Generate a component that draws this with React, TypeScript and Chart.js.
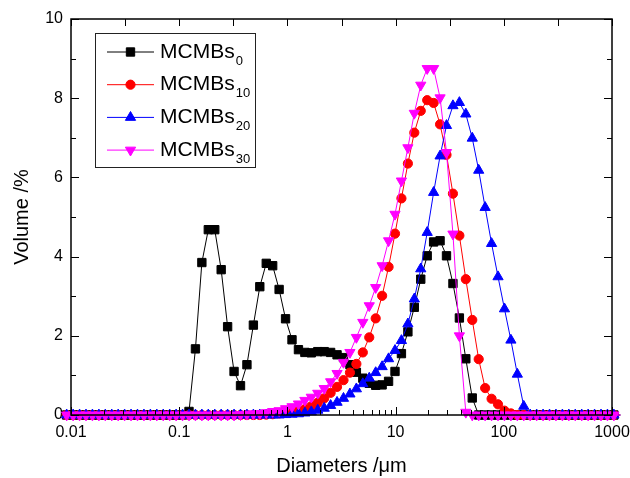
import React, { useEffect, useRef } from 'react';
import { Chart, registerables } from 'chart.js';

Chart.register(...registerables);
Chart.defaults.font.family = '"Liberation Sans", Arial, sans-serif';
Chart.defaults.color = '#000';

// Particle diameters (µm), log-spaced size classes
const diameters = [
  0.00912, 0.01046, 0.012, 0.01376, 0.01578, 0.0181, 0.02075, 0.0238, 0.02729, 0.0313,
  0.03589, 0.04117, 0.04721, 0.05415, 0.06209, 0.07121, 0.08166, 0.09365, 0.1074, 0.1232,
  0.1413, 0.162, 0.1858, 0.2131, 0.2443, 0.2802, 0.3214, 0.3686, 0.4227, 0.4848,
  0.5559, 0.6376, 0.7311, 0.8385, 0.9616, 1.103, 1.265, 1.45, 1.663, 1.908,
  2.188, 2.509, 2.877, 3.3, 3.784, 4.34, 4.977, 5.708, 6.546, 7.508,
  8.61, 9.874, 11.32, 12.99, 14.89, 17.08, 19.59, 22.46, 25.76, 29.54,
  33.88, 38.86, 44.57, 51.11, 58.61, 67.22, 77.09, 88.42, 101.4, 116.3,
  133.4, 152.9, 175.4, 201.2, 230.7, 264.6, 303.4, 348.0, 399.0, 457.7,
  524.8, 601.9, 690.2, 791.6, 907.8, 1041, 1194,
];

// Volume fraction (%) per size class
const mcmbs0 = [
  0, 0, 0, 0, 0, 0, 0, 0, 0, 0,
  0, 0, 0, 0, 0, 0, 0, 0, 0, 0.09,
  1.67, 3.85, 4.68, 4.68, 3.67, 2.23, 1.1, 0.74, 1.27, 2.27,
  3.24, 3.83, 3.77, 3.17, 2.43, 1.9, 1.65, 1.58, 1.57, 1.6,
  1.6, 1.58, 1.52, 1.45, 1.27, 1.08, 0.93, 0.8, 0.75, 0.76,
  0.85, 1.1, 1.55, 2.1, 2.72, 3.43, 4.02, 4.37, 4.4, 4.02,
  3.32, 2.45, 1.42, 0.43, 0, 0, 0, 0, 0, 0,
  0, 0, 0, 0, 0, 0, 0, 0, 0, 0,
  0, 0, 0, 0, 0, 0, 0,
];
const mcmbs10 = [
  0, 0, 0, 0, 0, 0, 0, 0, 0, 0,
  0, 0, 0, 0, 0, 0, 0, 0, 0, 0,
  0, 0, 0, 0, 0, 0, 0, 0, 0, 0,
  0, 0.01, 0.02, 0.04, 0.06, 0.08, 0.11, 0.15, 0.22, 0.31,
  0.42, 0.56, 0.71, 0.88, 1.07, 1.29, 1.58, 1.96, 2.44, 3.01,
  3.74, 4.58, 5.47, 6.35, 7.13, 7.68, 7.95, 7.88, 7.34, 6.57,
  5.59, 4.53, 3.43, 2.4, 1.41, 0.68, 0.41, 0.27, 0.11, 0.04,
  0, 0, 0, 0, 0, 0, 0, 0, 0, 0,
  0, 0, 0, 0, 0, 0, 0,
];
const mcmbs20 = [
  0, 0, 0, 0, 0, 0, 0, 0, 0, 0,
  0, 0, 0, 0, 0, 0, 0, 0, 0, 0,
  0, 0, 0, 0, 0, 0, 0, 0, 0, 0,
  0, 0, 0, 0, 0.01, 0.02, 0.03, 0.05, 0.08, 0.12,
  0.17, 0.24, 0.32, 0.42, 0.53, 0.66, 0.79, 0.93, 1.07, 1.22,
  1.42, 1.63, 1.88, 2.3, 2.93, 3.69, 4.61, 5.62, 6.54, 7.31,
  7.81, 7.89, 7.6, 6.99, 6.18, 5.24, 4.33, 3.49, 2.68, 1.89,
  1.03, 0.22, 0, 0, 0, 0, 0, 0, 0, 0,
  0, 0, 0, 0, 0, 0, 0,
];
const mcmbs30 = [
  0, 0, 0, 0, 0, 0, 0, 0, 0, 0,
  0, 0, 0, 0, 0, 0, 0, 0, 0, 0,
  0, 0, 0, 0, 0, 0, 0, 0.01, 0.02, 0.03,
  0.04, 0.06, 0.09, 0.11, 0.16, 0.21, 0.28, 0.37, 0.45, 0.55,
  0.67, 0.84, 1.05, 1.33, 1.58, 1.96, 2.34, 2.76, 3.22, 3.77,
  4.4, 5.07, 5.91, 6.75, 7.62, 8.33, 8.75, 8.75, 8.01, 6.63,
  4.57, 2.0, 0.07, 0, 0, 0, 0, 0, 0, 0,
  0, 0, 0, 0, 0, 0, 0, 0, 0, 0,
  0, 0, 0, 0, 0, 0, 0,
];

const seriesBase = 'MCMBs';
const seriesSubscripts = ['0', '10', '20', '30'];
const xTickLabels = ['0.01', '0.1', '1', '10', '100', '1000'];
const yTickLabels = ['0', '2', '4', '6', '8', '10'];

const seriesValues = [mcmbs0, mcmbs10, mcmbs20, mcmbs30];
const seriesColors = ['#000000', '#ff0000', '#0000ff', '#ff00ff'];
const seriesMarkers = ['rect', 'circle', 'triangle', 'triangle'];
const seriesRotations = [0, 0, 0, 180];
const seriesRadii = [5.9, 4.6, 5.9, 5.9];

const FONT = '"Liberation Sans", Arial, sans-serif';

function drawMarker(ctx: CanvasRenderingContext2D, style: string, x: number, y: number, r: number, rot: number) {
  ctx.beginPath();
  if (style === 'rect') {
    const s = Math.SQRT1_2 * r;
    ctx.rect(x - s, y - s, 2 * s, 2 * s);
  } else if (style === 'circle') {
    ctx.arc(x, y, r, 0, Math.PI * 2);
  } else {
    let rad = (rot * Math.PI) / 180;
    ctx.moveTo(x + Math.sin(rad) * r, y - Math.cos(rad) * r);
    rad += (2 * Math.PI) / 3;
    ctx.lineTo(x + Math.sin(rad) * r, y - Math.cos(rad) * r);
    rad += (2 * Math.PI) / 3;
    ctx.lineTo(x + Math.sin(rad) * r, y - Math.cos(rad) * r);
    ctx.closePath();
  }
  ctx.fill();
  ctx.stroke();
}

// Boxed axes with inward ticks, plus the legend with subscripted labels
const frameAndLegend = {
  id: 'frameAndLegend',
  afterDraw(chart: any) {
    const { ctx, chartArea: a, scales } = chart;
    const xs = scales.x;
    const ys = scales.y;
    const major = 8;
    const minor = 5;
    ctx.save();
    ctx.strokeStyle = '#000';
    ctx.lineWidth = 1;
    ctx.beginPath();
    for (let e = -2; e <= 3; e++) {
      const p = Math.round(xs.getPixelForValue(Math.pow(10, e))) + 0.5;
      ctx.moveTo(p, a.bottom);
      ctx.lineTo(p, a.bottom - major);
      ctx.moveTo(p, a.top);
      ctx.lineTo(p, a.top + 7);
      if (e < 3) {
        for (let m = 2; m <= 9; m++) {
          const q = Math.round(xs.getPixelForValue(m * Math.pow(10, e))) + 0.5;
          ctx.moveTo(q, a.bottom);
          ctx.lineTo(q, a.bottom - minor);
        }
        const h = Math.round(xs.getPixelForValue(Math.pow(10, e + 0.5))) + 0.5;
        ctx.moveTo(h, a.top);
        ctx.lineTo(h, a.top + 7);
      }
    }
    for (let v = 0; v <= 10; v++) {
      const p = Math.round(ys.getPixelForValue(v)) + 0.5;
      const len = v % 2 === 0 ? major : minor;
      ctx.moveTo(a.left, p);
      ctx.lineTo(a.left + len, p);
      ctx.moveTo(a.right, p);
      ctx.lineTo(a.right - len, p);
    }
    ctx.stroke();
    ctx.lineWidth = 1.5;
    ctx.strokeRect(a.left, a.top, a.right - a.left, a.bottom - a.top);

    // legend
    const lx = 95.5;
    const ly = 33.5;
    const lw = 160;
    const lh = 134;
    ctx.fillStyle = '#fff';
    ctx.fillRect(lx, ly, lw, lh);
    ctx.lineWidth = 1;
    ctx.strokeStyle = '#222';
    ctx.strokeRect(lx, ly, lw, lh);
    for (let i = 0; i < seriesSubscripts.length; i++) {
      const y = 52 + i * 32.7;
      const color = seriesColors[i];
      ctx.strokeStyle = color;
      ctx.fillStyle = color;
      ctx.lineWidth = 1;
      ctx.beginPath();
      ctx.moveTo(107, y);
      ctx.lineTo(154, y);
      ctx.stroke();
      drawMarker(ctx, seriesMarkers[i], 130.5, y, seriesRadii[i], seriesRotations[i]);
      ctx.fillStyle = '#000';
      ctx.textBaseline = 'middle';
      ctx.textAlign = 'left';
      ctx.font = `21px ${FONT}`;
      ctx.fillText(seriesBase, 160, y);
      const w = ctx.measureText(seriesBase).width;
      ctx.font = `13px ${FONT}`;
      ctx.fillText(seriesSubscripts[i], 160 + w + 1, y + 9);
    }
    ctx.restore();
  },
};

export default function App() {
  const ref = useRef<HTMLCanvasElement | null>(null);

  useEffect(() => {
    const canvas = ref.current;
    if (!canvas) return;
    const datasets = seriesValues.map((vals, i) => ({
      label: seriesBase + seriesSubscripts[i],
      data: diameters.map((d, k) => ({ x: d, y: vals[k] })),
      borderColor: seriesColors[i],
      backgroundColor: seriesColors[i],
      borderWidth: 1,
      pointStyle: seriesMarkers[i] as any,
      pointRotation: seriesRotations[i],
      pointRadius: seriesRadii[i],
      pointBorderWidth: 1,
      pointBackgroundColor: seriesColors[i],
      pointBorderColor: seriesColors[i],
      tension: 0,
      clip: false as any,
      order: 4 - i,
    }));

    const chart = new Chart(canvas, {
      type: 'line',
      data: { datasets },
      options: {
        animation: false,
        responsive: false,
        devicePixelRatio: 1,
        events: [],
        layout: { padding: { top: 19, right: 18, bottom: 0, left: 0 } },
        plugins: {
          legend: { display: false },
          tooltip: { enabled: false },
        },
        scales: {
          x: {
            type: 'logarithmic',
            bounds: 'data',
            afterDataLimits: (s: any) => {
              s.min = 0.01;
              s.max = 1000;
            },
            grid: { display: false, drawTicks: false },
            border: { display: false },
            ticks: {
              autoSkip: false,
              maxRotation: 0,
              padding: 8,
              font: { size: 16 },
              color: '#000',
              callback: (value: any) => {
                const l = Math.log10(Number(value));
                const r = Math.round(l);
                if (Math.abs(l - r) < 1e-6 && r >= -2 && r <= 3) return xTickLabels[r + 2];
                return '';
              },
            },
            title: {
              display: true,
              text: 'Diameters /μm',
              font: { size: 20 },
              color: '#000',
              padding: { top: 0, bottom: 0 },
            },
            afterFit: (s: any) => {
              s.height = 63;
              s.paddingLeft = 0;
              s.paddingRight = 0;
            },
          },
          y: {
            min: 0,
            max: 10,
            grid: { display: false, drawTicks: false },
            border: { display: false },
            ticks: {
              stepSize: 2,
              padding: 8,
              font: { size: 16 },
              color: '#000',
              callback: (value: any) => yTickLabels[Math.round(Number(value) / 2)],
            },
            title: {
              display: true,
              text: 'Volume /%',
              font: { size: 20 },
              color: '#000',
              padding: { top: 10, bottom: 0 },
            },
            afterFit: (s: any) => {
              s.width = 71;
            },
          },
        },
      },
      plugins: [frameAndLegend],
    } as any);

    return () => chart.destroy();
  }, []);

  return (
    <div style={{ position: 'absolute', left: 0, top: 0, width: 630, height: 478, background: '#fff' }}>
      <canvas ref={ref} width={630} height={478} style={{ width: 630, height: 478, display: 'block' }} />
    </div>
  );
}
